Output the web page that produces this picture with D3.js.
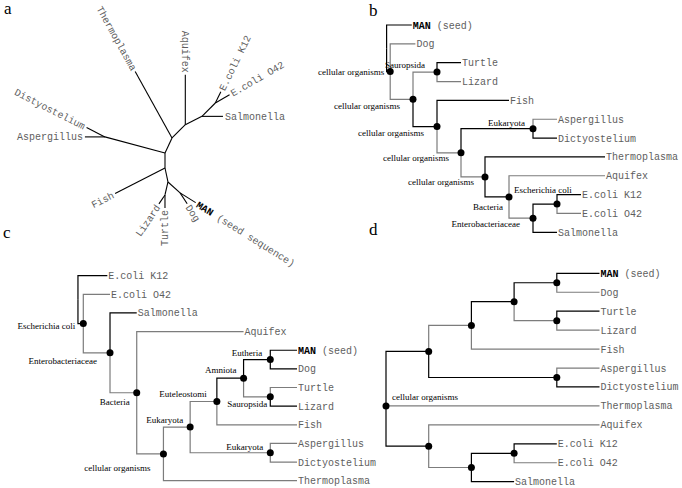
<!DOCTYPE html>
<html>
<head>
<meta charset="UTF-8">
<title>trees</title>
<style>
body { margin: 0; background: #fff; }
</style>
</head>
<body>
<svg id="fig"></svg>
<script src="https://cdn.jsdelivr.net/npm/d3@7/dist/d3.min.js"></script>
<script>
const width = 682;
const height = 488;

// ---------- panel a : unrooted tree (parent, branch length, direction in degrees) ----------
const aIds     = ['A', 'P', 'Thermoplasma', 'C', 'Aquifex', 'D', 'Salmonella', 'E', 'E.coli K12', 'E.coli O42',
                  'F', 'Aspergillus', 'Distyostelium', 'B', 'Fish', 'G', 'I', 'MAN', 'Dog', 'H', 'Lizard', 'Turtle'];
const aParents = [null, 'A', 'P', 'P', 'C', 'C', 'D', 'D', 'E', 'E',
                  'A', 'F', 'F', 'A', 'B', 'B', 'G', 'I', 'I', 'G', 'H', 'H'];
const aLengths = [0, 16.6, 76, 18.8, 50, 18.6, 21, 18.9, 12.6, 16.4,
                  62.2, 20, 20.6, 15, 56, 14.3, 16.3, 18.4, 13, 13.3, 10.8, 13];
const aAngles  = [0, -65, -119, -45, -90, -26.5, 0, -45, -64, -30,
                  -165, 180, -153, 90, 153, 78, 42, 32, 57, 103, 124, 90];

// ---------- panel b : tree rooted on the seed ----------
const bIds     = ['r', 'MAN', 'n1', 'Dog', 'n2', 's', 'Turtle', 'Lizard', 'n3', 'Fish', 'n4', 'e', 'Aspergillus',
                  'Dictyostelium', 'n5', 'Thermoplasma', 'n6', 'Aquifex', 'n7', 'n8', 'E.coli K12', 'E.coli O42', 'Salmonella'];
const bParents = ['', 'r', 'r', 'n1', 'n1', 'n2', 's', 's', 'n2', 'n3', 'n3', 'n4', 'e',
                  'e', 'n4', 'n5', 'n5', 'n6', 'n6', 'n7', 'n8', 'n8', 'n7'];
const bDepths  = [-0.1, 0.95, 0.05, 1.1, 1, 2, 3, 3, 2, 5, 3, 6, 7, 7, 4, 9, 5, 9, 6, 7, 8, 8, 7];
const bWeak    = [0, 0, 0, 1, 1, 1, 0, 1, 0, 0, 1, 0, 1, 0, 1, 0, 0, 1, 1, 0, 0, 1, 0];
const bTaxa    = ['', '', 'cellular organisms', '', 'cellular organisms', 'Sauropsida', '', '', 'cellular organisms', '',
                  'cellular organisms', 'Eukaryota', '', '', 'cellular organisms', '', 'Bacteria', '', 'Enterobacteriaceae',
                  'Escherichia coli', '', '', ''];

// ---------- panel c : tree rooted on E.coli K12 ----------
const cIds     = ['r', 'E.coli K12', 'n1', 'E.coli O42', 'n2', 'Salmonella', 'n3', 'Aquifex', 'n4', 'n5', 'n6', 'n8',
                  'n9', 'MAN', 'Dog', 'n10', 'Turtle', 'Lizard', 'Fish', 'n7', 'Aspergillus', 'Dictyostelium', 'Thermoplasma'];
const cParents = ['', 'r', 'r', 'n1', 'n1', 'n2', 'n2', 'n3', 'n3', 'n4', 'n5', 'n6',
                  'n8', 'n9', 'n9', 'n8', 'n10', 'n10', 'n6', 'n5', 'n7', 'n7', 'n4'];
const cDepths  = [-0.2, 0.9, 0, 1, 1, 2, 2, 6, 3, 4, 5, 6, 7, 8, 8, 7, 8, 8, 8, 7, 8, 8, 8];
const cWeak    = [0, 0, 0, 1, 1, 0, 1, 1, 1, 1, 1, 0, 0, 0, 0, 1, 1, 0, 1, 1, 1, 1, 1];
const cTaxa    = ['', '', 'Escherichia coli', '', 'Enterobacteriaceae', '', 'Bacteria', '', 'cellular organisms',
                  'Eukaryota', 'Euteleostomi', 'Amniota', 'Eutheria', '', '', 'Sauropsida', '', '', '', 'Eukaryota', '', '', ''];

// ---------- panel d : tree rooted on cellular organisms ----------
const dIds     = ['root', 'c1', 'f', 'mdtl', 'md', 'MAN', 'Dog', 'tl', 'Turtle', 'Lizard', 'Fish', 'ad', 'Aspergillus',
                  'Dictyostelium', 'Thermoplasma', 'bac', 'Aquifex', 'ent', 'eco', 'E.coli K12', 'E.coli O42', 'Salmonella'];
const dParents = ['', 'root', 'c1', 'f', 'mdtl', 'md', 'md', 'mdtl', 'tl', 'tl', 'f', 'c1', 'ad',
                  'ad', 'root', 'root', 'bac', 'bac', 'ent', 'eco', 'eco', 'ent'];
const dDepths  = [0, 1, 2, 3, 4, 5, 5, 4, 5, 5, 5, 4, 5, 5, 5, 1, 5, 2, 3, 4, 4, 3];
const dWeak    = [0, 0, 1, 0, 0, 0, 1, 1, 0, 1, 1, 0, 1, 0, 1, 0, 1, 1, 0, 0, 1, 0];
const dTaxa    = ['cellular organisms', '', '', '', '', '', '', '', '', '', '', '', '', '', '', '', '', '', '', '', '', ''];

const seedSuffixA = ' (seed sequence)';
const seedSuffix = ' (seed)';

// ---------- drawing ----------
const svg = d3.select('#fig')
    .attr('width', width)
    .attr('height', height)
    .style('background', '#fff');

const mono = '"Liberation Mono", "Courier New", monospace';
const serif = '"Liberation Serif", "Times New Roman", serif';
const leafColor = '#5e5e5e';
const weakColor = '#7c7c7c';

function leafText(sel, name, suffix) {
    if (name === 'MAN') {
        sel.append('tspan').attr('font-weight', 'bold').attr('fill', '#000').text('MAN');
        sel.append('tspan').attr('fill', leafColor).text(suffix);
    } else {
        sel.text(name);
    }
}

// panel a
(function () {
    const g = svg.append('g');
    const len = d3.scaleLinear().domain([0, 100]).range([0, 100]);
    const cx = 165, cy = 153;
    const pos = {};
    const kids = {};
    aIds.forEach((id, i) => {
        const p = aParents[i];
        if (p === null) { pos[id] = [cx, cy]; return; }
        const a = aAngles[i] * Math.PI / 180;
        const l = len(aLengths[i]);
        pos[id] = [pos[p][0] + l * Math.cos(a), pos[p][1] + l * Math.sin(a)];
        kids[p] = true;
    });
    aIds.forEach((id, i) => {
        const p = aParents[i];
        if (p === null) return;
        g.append('line')
            .attr('x1', pos[p][0]).attr('y1', pos[p][1])
            .attr('x2', pos[id][0]).attr('y2', pos[id][1])
            .attr('stroke', '#000')
            .attr('stroke-width', 1.1);
    });
    aIds.forEach((id, i) => {
        if (kids[id]) return;
        let ang = aAngles[i];
        const flip = ang >= 90 || ang <= -90;
        const rot = flip ? ang - 180 : ang;
        const r = ang * Math.PI / 180;
        const tx = pos[id][0] + 2 * Math.cos(r);
        const ty = pos[id][1] + 2 * Math.sin(r);
        const t = g.append('text')
            .attr('transform', `translate(${tx},${ty}) rotate(${rot})`)
            .attr('text-anchor', flip ? 'end' : 'start')
            .attr('dy', '0.35em')
            .attr('font-family', mono)
            .attr('font-size', 10)
            .attr('fill', leafColor);
        leafText(t, id, seedSuffixA);
    });
})();

// label offsets for internal node names, per panel: [anchor, dx, dy]
const labelPos = {
    b: {
        n1: ['end', -6, 3], n2: ['end', -13, 10], n3: ['end', -13, 9], n4: ['end', -12, 8], n5: ['end', -11, 8],
        s: ['end', -12, -4], e: ['end', -8, -3], n6: ['end', -6, 13], n7: ['end', -13, 9], n8: ['start', -43, -11]
    },
    c: {
        n1: ['end', -8, 5], n2: ['end', -13, 11], n3: ['end', -7, 12], n4: ['end', -13, 17], n5: ['end', -7, -4],
        n6: ['end', -10, -4], n8: ['end', -7, -5], n9: ['end', -8, -4], n10: ['end', -3, 10], n7: ['end', -7, -3]
    },
    d: {
        root: ['start', 6, -6]
    }
};

function drawTree(key, ids, parents, depths, weak, taxa, xRange, yRange, maxDepth, dotRoot) {
    const rows = ids.map((id, i) => ({ id: id, parent: parents[i], lvl: depths[i], weak: weak[i], taxon: taxa[i] }));
    const root = d3.stratify().id(d => d.id).parentId(d => d.parent || null)(rows);
    const leaves = root.leaves();
    const x = d3.scaleLinear().domain([0, maxDepth]).range(xRange);
    const y = d3.scaleLinear().domain([0, leaves.length - 1]).range(yRange);
    leaves.forEach((n, i) => { n.py = y(i); });
    root.eachAfter(n => {
        if (n.children) n.py = d3.median(n.children, c => c.py);
        n.px = x(n.data.lvl);
    });

    const g = svg.append('g');
    const links = root.descendants().filter(n => n.parent);
    links.sort((a, b) => b.data.weak - a.data.weak);
    g.selectAll('path.link')
        .data(links)
        .enter()
        .append('path')
        .attr('class', 'link')
        .attr('d', n => `M${n.parent.px},${n.parent.py}V${n.py}H${n.px}`)
        .attr('fill', 'none')
        .attr('stroke', n => n.data.weak ? weakColor : '#000')
        .attr('stroke-width', 1.2);

    const inner = root.descendants().filter(n => n.children && (dotRoot || n.parent));
    g.selectAll('circle')
        .data(inner)
        .enter()
        .append('circle')
        .attr('cx', n => n.px)
        .attr('cy', n => n.py)
        .attr('r', 3.5)
        .attr('fill', '#000');

    leaves.forEach(n => {
        const t = g.append('text')
            .attr('x', n.px + 1)
            .attr('y', n.py)
            .attr('dy', '0.35em')
            .attr('font-family', mono)
            .attr('font-size', 10)
            .attr('fill', leafColor);
        leafText(t, n.id, seedSuffix);
    });

    root.descendants().filter(n => n.data.taxon).forEach(n => {
        const lp = labelPos[key][n.id];
        g.append('text')
            .attr('x', n.px + lp[1])
            .attr('y', n.py + lp[2])
            .attr('text-anchor', lp[0])
            .attr('font-family', serif)
            .attr('font-size', 9)
            .attr('fill', '#000')
            .text(n.data.taxon);
    });
}

drawTree('b', bIds, bParents, bDepths, bWeak, bTaxa, [389, 605], [25, 232.3], 9, false);
drawTree('c', cIds, cParents, cDepths, cWeak, cTaxa, [83.3, 297], [275.7, 480.7], 8, false);
drawTree('d', dIds, dParents, dDepths, dWeak, dTaxa, [386, 599.5], [273.3, 481.7], 5, true);

// panel letters
const panelLetters = ['a', 'b', 'c', 'd'];
const letterX = [4, 369, 3, 369];
const letterY = [14, 16, 238, 235];
svg.selectAll('text.letter')
    .data(panelLetters)
    .enter()
    .append('text')
    .attr('class', 'letter')
    .attr('x', (d, i) => letterX[i])
    .attr('y', (d, i) => letterY[i])
    .attr('font-family', serif)
    .attr('font-size', 17)
    .attr('fill', '#000')
    .text(d => d);
</script>
</body>
</html>
